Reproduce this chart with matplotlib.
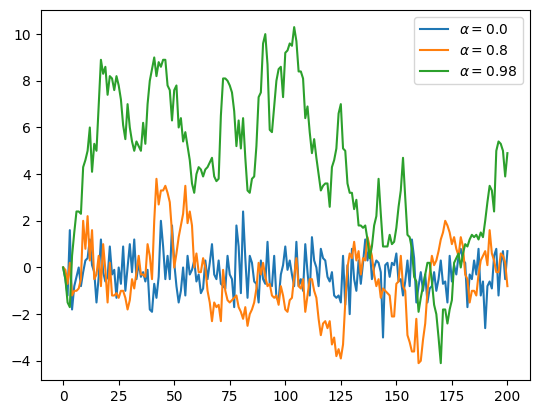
import numpy as np
import matplotlib
matplotlib.use('Agg')
import matplotlib.pyplot as plt

alphas = [0.0, 0.8, 0.98]

x_a00 = [0, -0.5, -1.2, 1.6, -1.8, -0.8, -0.4, 0.0, -0.8, -0.2,
         0.3, 0.4, 1.2, 0.1, -0.2, -1.5, -0.4, 1.2, -0.2, -0.6,
         -0.4, 0.9, -0.3, -0.1, -1.3, 0.0, -0.7, 0.9, -1.0, 0.0,
         1.0, -0.2, 1.2, -0.5, 0.2, -0.4, -0.2, -0.6, -0.1, -1.8,
         -1.9, -0.7, -1.3, -0.4, 2.0, 0.9, -0.5, 0.5, -0.5, 1.8,
         0.2, -0.8, -1.5, -1.0, 0.0, -1.2, 0.5, -0.3, -0.1, 0.3,
         -0.6, -0.3, -1.1, -0.9, 0.3, -0.5, 0.2, 1.0, -0.3, -0.5,
         0.3, -0.7, -0.8, -0.9, 0.5, -0.3, -0.5, -1.7, 1.8, 0.9,
         -1.1, 2.4, 0.4, -1.3, 0.5, 0.2, -0.6, -0.7, -1.5, 0.3,
         -0.5, -0.7, 1.1, -0.7, -0.8, 0.5, -1.3, -1.4, -0.3, 0.1,
         0.9, -0.1, 0.3, -0.3, -0.8, 1.1, -0.8, -0.5, -1.0, 1.0,
         -0.2, -1.2, 1.3, 0.3, 0.0, -0.8, 0.8, 0.4, 0.3, -0.4,
         -0.6, -0.2, -1.2, -1.3, -1.2, -1.5, 0.5, -1.6, 0.1, -2.0,
         0.8, -0.5, -1.0, 0.3, -0.7, 0.2, 1.2, 0.3, 0.9, -0.5,
         0.0, 0.3, 0.2, -0.2, -3.0, 0.1, 0.2, -0.4, 0.2, 0.1,
         0.6, -0.6, -0.5, -1.2, -0.6, 0.3, -0.8, 1.2, 0.4, -1.5,
         -0.8, -0.2, -1.0, -0.3, -1.5, -0.9, -0.8, -0.2, -1.0, -0.5,
         0.3, -0.7, -0.6, -1.5, 0.5, -0.6, 0.1, -0.3, 0.5, 0.8,
         0.3, 0.2, -1.7, -0.3, -0.5, 0.3, -0.3, 0.8, -1.2, -0.6,
         -2.6, -0.8, -0.6, -0.9, 0.5, 0.8, -1.2, 0.2, 0.7, -0.5,
         0.7]

x_a08 = [0, -0.1, -0.7, 0.2, -1.2, -1.0, -1.0, -0.9, -0.5, 2.0,
         0.8, 2.2, 0.3, 1.6, -0.5, -0.3, 0.5, -0.8, 1.0, -0.1,
         -1.5, 0.2, -1.2, -1.2, -1.1, -1.3, -1.0, -1.0, -1.3, -1.8,
         -1.4, -0.5, -0.9, -0.2, 0.5, -0.3, -0.3, -0.4, 1.0, 0.5,
         -0.5, 2.0, 3.8, 2.7, 3.3, 3.3, 3.5, 3.2, 2.8, 1.5,
         0.0, 0.6, 1.3, 1.8, 2.3, 3.5, 1.9, 2.4, 1.8, 0.0,
         0.6, -0.2, -0.2, 0.4, 0.0, -1.0, -1.5, -2.3, -1.5, -1.7,
         -1.6, -2.3, -0.1, -1.0, -1.4, -1.5, -1.4, -1.3, -1.2, -1.7,
         -1.9, -2.2, -1.7, -2.5, -2.0, -1.8, -1.5, -0.9, 0.2, -0.3,
         0.2, -0.4, -0.8, -0.7, -1.2, -1.3, -1.2, -1.6, -0.8, -1.2,
         -1.8, -1.9, -1.4, -1.3, -0.4, 0.4, -0.8, -0.9, -0.5, -1.9,
         -1.2, -0.5, -0.5, -1.0, -1.3, -2.2, -2.9, -2.4, -2.3, -2.6,
         -2.3, -3.3, -3.0, -3.8, -3.5, -3.9, -3.3, -1.5, 0.0, 0.6,
         0.4, 1.1, 0.3, 0.7, -0.3, 0.4, 0.3, 1.3, 0.9, 0.5,
         -0.3, -0.8, -0.5, -1.3, -0.9, -1.0, -1.1, -1.2, -2.1, -2.1,
         -0.7, -0.6, 0.5, -0.8, -1.0, -2.9, -3.2, -3.6, -3.6, -2.2,
         -4.1, -4.0, -3.1, -2.4, -1.0, -0.3, 0.5, 0.1, 0.3, 0.7,
         1.2, 1.5, 2.0, 1.8, 1.5, 1.0, 1.3, 0.8, 0.5, 1.3,
         0.9, -0.3, -0.5, -1.5, -1.0, -1.0, -1.2, -0.3, 0.3, 0.5,
         0.7, 0.1, 1.6, 0.6, 0.3, -0.2, -0.2, 0.6, 0.5, 0.2,
         -0.8]

x_a098 = [0, -0.5, -1.5, -1.7, 0.5, 1.5, 2.4, 2.4, 2.3, 4.3,
          4.6, 5.0, 6.0, 4.1, 5.3, 5.0, 7.0, 8.9, 8.3, 8.6,
          7.4, 8.2, 8.1, 7.6, 8.2, 7.8, 7.2, 6.1, 5.5, 7.0,
          6.0, 5.4, 5.0, 5.4, 5.2, 5.0, 6.2, 5.3, 7.0, 8.0,
          8.5, 9.0, 8.2, 8.8, 8.6, 8.9, 8.9, 7.8, 7.6, 6.3,
          7.6, 7.8, 6.0, 6.4, 5.4, 5.8, 5.2, 4.6, 3.6, 3.2,
          4.0, 4.3, 4.2, 3.9, 4.2, 4.3, 4.5, 4.7, 3.9, 3.7,
          3.8, 6.5, 8.1, 8.1, 8.0, 7.8, 7.5, 6.7, 5.2, 6.3,
          5.1, 6.4, 4.7, 3.3, 3.2, 3.8, 3.9, 5.2, 7.3, 7.5,
          9.6, 10.0, 8.7, 5.9, 5.8, 6.9, 8.0, 8.5, 8.6, 7.3,
          9.2, 9.3, 9.6, 9.5, 10.3, 9.7, 8.4, 8.4, 8.1, 6.4,
          6.9, 5.8, 4.9, 5.5, 4.7, 4.0, 3.3, 3.5, 3.6, 3.6,
          2.6, 4.3, 4.6, 5.1, 6.6, 7.0, 5.1, 5.0, 3.6, 3.2,
          3.2, 2.5, 2.9, 1.8, 1.8, 1.7, 1.8, 1.2, 0.4, 0.9,
          1.8, 2.2, 3.8, 2.3, 0.9, 0.9, 0.9, 1.4, 1.0, 1.1,
          1.7, 2.6, 3.3, 4.7, 3.0, 1.4, 1.3, 0.8, -0.4, -0.6,
          -1.9, -1.3, -0.8, -0.3, 0.2, 0.2, -0.6, -1.6, -2.0, -3.0,
          -4.1, -1.8, -1.8, -2.4, -1.8, -1.4, 0.2, 0.4, 0.6, 0.0,
          0.6, 1.0, 0.9, 1.2, 1.4, 1.3, 1.4, 1.2, 1.5, 1.3,
          2.0, 2.8, 3.5, 3.3, 2.4, 5.0, 5.4, 5.3, 5.0, 3.9,
          4.9]

series = [x_a00, x_a08, x_a098]

plt.figure(figsize=(5.46, 4.13), dpi=100)
for a, s in zip(alphas, series):
    plt.plot(np.arange(len(s)), s, label=r'$\alpha = %s$' % a)
plt.legend()
plt.subplots_adjust(left=0.075, right=0.97, bottom=0.08, top=0.975)
plt.savefig('out.png', dpi=100)
